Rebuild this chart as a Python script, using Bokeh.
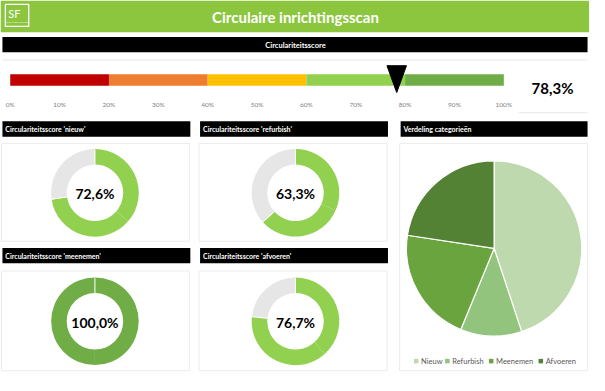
import math
from bokeh.plotting import figure
from bokeh.models import Range1d
from bokeh.core.properties import value
from bokeh.embed import file_html
from bokeh.resources import INLINE

# ---------------- data ----------------
title = "Circulaire inrichtingsscan"
overall_title = "Circulariteitsscore"
overall_score = 78.3
band_edges = [0, 20, 40, 60, 80, 100]
band_colors = ["#C00000", "#ED7D31", "#FFC000", "#92D050", "#70AD47"]
gauge_ticks = [0, 10, 20, 30, 40, 50, 60, 70, 80, 90, 100]
gauge_tick_labels = ["0%", "10%", "20%", "30%", "40%", "50%", "60%", "70%", "80%", "90%", "100%"]

donut_titles = ["Circulariteitsscore 'nieuw'", "Circulariteitsscore 'refurbish'",
                "Circulariteitsscore 'meenemen'", "Circulariteitsscore 'afvoeren'"]
donut_values = [72.6, 63.3, 100.0, 76.7]
donut_colors = ["#92D050", "#92D050", "#70AD47", "#92D050"]
donut_rest_color = "#E7E6E6"

pie_title = "Verdeling categorieën"
pie_labels = ["Nieuw", "Refurbish", "Meenemen", "Afvoeren"]
pie_values = [44.9, 11.3, 21.2, 22.6]
pie_colors = ["#BFD9AF", "#93C47D", "#6AA43E", "#548235"]

# ---------------- layout helpers ----------------
W, H = 605, 391
FONT = value("Lato")


def fmt(v):
    return f"{v:.1f}".replace(".", ",") + "%"


p = figure(width=589, height=375, x_range=Range1d(0, W), y_range=Range1d(-H, 0),
           output_backend="svg", toolbar_location=None, min_border=0,
           x_axis_location=None, y_axis_location=None)
p.grid.visible = False
p.outline_line_color = None
p.background_fill_color = "white"
p.border_fill_color = "white"

# gauge scale: 0% at x=10, 100% at x=517
g0, g1 = 10.0, 517.0
gs = (g1 - g0) / 100.0
p.extra_x_ranges = {"gauge": Range1d(-g0 / gs, (W - g0) / gs)}


def box(l, r, t, b, **kw):
    p.quad(left=[l], right=[r], top=[-t], bottom=[-b], **kw)


def txt(x, y, s, size, color="black", bold=False, align="left", **kw):
    p.text(x=[x], y=[-y], text=[s], text_font=FONT, text_font_size=f"{size}px",
           text_font_style="bold" if bold else "normal", text_color=color,
           text_align=align, text_baseline="middle", **kw)


# header
box(0, W, 0, 33, fill_color="#8CC63F", line_color=None)
txt(303, 17, title, 15, color="white", bold=True, align="center")
box(5, 29, 4, 27, fill_color=None, line_color="white", line_width=1.3)
txt(8, 14, "SF", 11, color="white")
txt(17, 23, "SUSTAINABLE FURNITURE", 2, color="white", align="center")

# overall score bar
box(2, 603, 38, 54, fill_color="black", line_color=None)
txt(303, 46.5, overall_title, 7.5, color="white", bold=True, align="center")
p.segment(x0=[2], y0=[-62], x1=[603], y1=[-62], line_color="#E6E6E6", line_width=1)
p.segment(x0=[532], y0=[-117], x1=[603], y1=[-117], line_color="#E6E6E6", line_width=1)

p.quad(left=band_edges[:-1], right=band_edges[1:], top=-77, bottom=-89,
       fill_color=band_colors, line_color=None, x_range_name="gauge")
p.text(x=gauge_ticks, y=[-108] * len(gauge_ticks), text=gauge_tick_labels,
       text_font=FONT, text_font_size="6.5px", text_color="#7F7F7F",
       text_align="center", text_baseline="middle", x_range_name="gauge")
tw = 10 / gs
p.patch(x=[overall_score - tw, overall_score + tw, overall_score], y=[-68, -68, -96],
        fill_color="black", line_color="black", x_range_name="gauge")
txt(567, 91, fmt(overall_score), 15, bold=True, align="center")

# donut panels
panels = [(2, 195, 126, 149, 251), (205, 398, 126, 149, 251),
          (2, 195, 258, 282, 386), (205, 398, 258, 282, 386)]
centers = [(97, 200.5), (303, 200.5), (97, 334.5), (303, 334.5)]
R_OUT, R_IN = 45, 29


def arcs(start, sweep):
    """split a clockwise sweep (radians) into pieces of at most pi"""
    out = []
    n = max(1, math.ceil(sweep / math.pi - 1e-9))
    step = sweep / n
    for i in range(n):
        out.append((start - i * step, start - (i + 1) * step))
    return out


for (l, r, tb, pt, pb), (cx, cy), ttl, v, col in zip(panels, centers, donut_titles,
                                                      donut_values, donut_colors):
    box(l, r, tb, tb + 16, fill_color="black", line_color=None)
    txt(l + 3, tb + 8.5, ttl, 7, color="white", bold=True)
    box(l - 1, r - 1, pt, pb, fill_color=None, line_color="#EBEBEB", line_width=1)
    green = 2 * math.pi * v / 100
    for a0, a1 in arcs(math.pi / 2, green):
        p.annular_wedge(x=[cx], y=[-cy], inner_radius=R_IN, outer_radius=R_OUT,
                        start_angle=a0, end_angle=a1, direction="clock",
                        fill_color=col, line_color=None)
    rest = 2 * math.pi - green
    if rest > 1e-6:
        for a0, a1 in arcs(math.pi / 2 - green, rest):
            p.annular_wedge(x=[cx], y=[-cy], inner_radius=R_IN, outer_radius=R_OUT,
                            start_angle=a0, end_angle=a1, direction="clock",
                            fill_color=donut_rest_color, line_color=None)
    for a in ([math.pi / 2, math.pi / 2 - green] if rest > 1e-6 else [math.pi / 2]):
        p.segment(x0=[cx + R_IN * math.cos(a)], y0=[-cy + R_IN * math.sin(a)],
                  x1=[cx + R_OUT * math.cos(a)], y1=[-cy + R_OUT * math.sin(a)],
                  line_color="white", line_width=1)
    txt(cx, cy + 1, fmt(v), 14, bold=True, align="center")

# pie panel
box(411, 603, 126, 142, fill_color="black", line_color=None)
txt(414, 134.5, pie_title, 7, color="white", bold=True)
box(410, 603, 149, 386, fill_color=None, line_color="#EBEBEB", line_width=1)
tot = sum(pie_values)
ang = math.pi / 2
starts, ends = [], []
for v in pie_values:
    sw = 2 * math.pi * v / tot
    starts.append(ang)
    ends.append(ang - sw)
    ang -= sw
p.wedge(x=507, y=-258.5, radius=90, start_angle=starts, end_angle=ends,
        direction="clock", fill_color=pie_colors, line_color="white", line_width=1.2)

leg_x = [427, 459, 504, 555]
p.scatter(x=leg_x, y=[-376] * 4, marker="square", size=4.5, fill_color=pie_colors,
          line_color=None)
p.text(x=[x + 5 for x in leg_x], y=[-376] * 4, text=pie_labels, text_font=FONT,
       text_font_size="7.5px", text_color="#595959", text_align="left",
       text_baseline="middle")

open("out.html", "w").write(file_html(p, INLINE))
